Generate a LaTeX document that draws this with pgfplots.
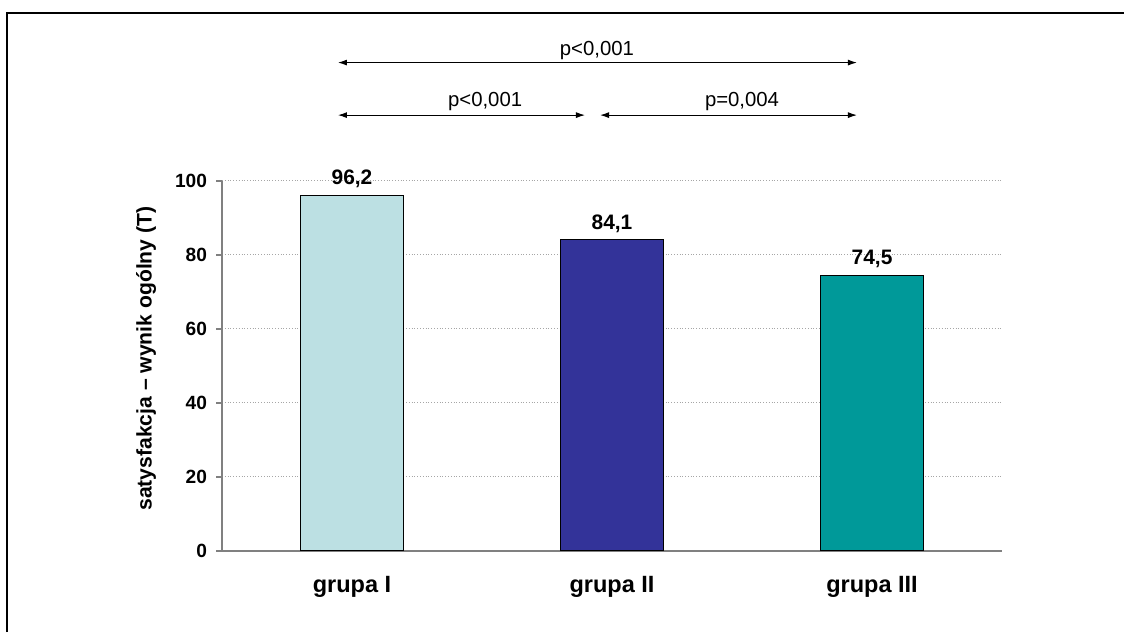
\documentclass[border=0pt]{standalone}
\usepackage{fontspec}
\setmainfont{Liberation Sans}
\usepackage{pgfplots}
\pgfplotsset{compat=1.18}
\usetikzlibrary{arrows.meta}
\definecolor{gI}{RGB}{188,224,227}
\definecolor{gII}{RGB}{51,51,153}
\definecolor{gIII}{RGB}{0,153,153}
\definecolor{axgray}{RGB}{128,128,128}
\begin{document}
\begin{tikzpicture}[x=0.5bp,y=0.5bp]
\begin{axis}[
  at={(111bp,40.5bp)}, anchor=south west,
  scale only axis, width=390bp, height=185bp,
  xmin=-0.5, xmax=2.5, ymin=0, ymax=100,
  axis x line=bottom, axis y line=left,
  axis line style={axgray, line width=0.9pt, -},
  ytick={0,20,40,60,80,100},
  xtick={0,1,2},
  xticklabels={grupa I, grupa II, grupa III},
  x tick style={draw=none},
  extra x ticks={-0.5,0.5,1.5,2.5},
  extra x tick labels={},
  extra x tick style={major tick length=4bp, tick style={axgray, line width=0.9pt}},
  y tick style={axgray, line width=0.9pt},
  major tick length=3bp,
  tick align=outside,
  ymajorgrids,
  grid style={densely dotted, gray!70, line width=0.5pt},
  /pgf/number format/assume math mode=true,
  yticklabel style={font=\fontsize{9.6}{11}\selectfont\bfseries, xshift=-1bp},
  xticklabel style={font=\fontsize{11.8}{14}\selectfont\bfseries, anchor=center, yshift=-15bp},
  ylabel={satysfakcja – wynik ogólny (T)},
  ylabel style={font=\fontsize{10.6}{12}\selectfont\bfseries, at={(axis description cs:-0.0974,0.52)}, anchor=center},
  ybar, bar width=51.5bp, bar shift=0pt,
  nodes near coords,
  every node near coord/.append style={font=\fontsize{10.5}{12}\selectfont\bfseries, /pgf/number format/use comma, /pgf/number format/fixed, /pgf/number format/precision=1, /pgf/number format/fixed zerofill},
  clip=false,
]
\addplot[fill=gI, draw=black, line width=0.5pt] coordinates {(0,96.2)};
\addplot[fill=gII, draw=black, line width=0.5pt] coordinates {(1,84.1)};
\addplot[fill=gIII, draw=black, line width=0.5pt] coordinates {(2,74.5)};
\draw[{Latex[length=4.5bp,width=3bp]}-{Latex[length=4.5bp,width=3bp]}, line width=0.5pt] (axis cs:-0.054,132.0) -- (axis cs:1.942,132.0);
\draw[{Latex[length=4.5bp,width=3bp]}-{Latex[length=4.5bp,width=3bp]}, line width=0.5pt] (axis cs:-0.054,117.8) -- (axis cs:0.896,117.8);
\draw[{Latex[length=4.5bp,width=3bp]}-{Latex[length=4.5bp,width=3bp]}, line width=0.5pt] (axis cs:0.954,117.8) -- (axis cs:1.942,117.8);
\node[font=\fontsize{10.2}{12}\selectfont] at (axis cs:0.942,135.3) {p<0,001};
\node[font=\fontsize{10.2}{12}\selectfont] at (axis cs:0.512,121.4) {p<0,001};
\node[font=\fontsize{10.2}{12}\selectfont] at (axis cs:1.5,121.4) {p=0,004};
\end{axis}
\draw[line width=1.2bp] (7,0) -- (7,619) -- (1124,619);
\pgfresetboundingbox
\path[use as bounding box] (0,0) rectangle (1124,632);
\end{tikzpicture}
\end{document}
